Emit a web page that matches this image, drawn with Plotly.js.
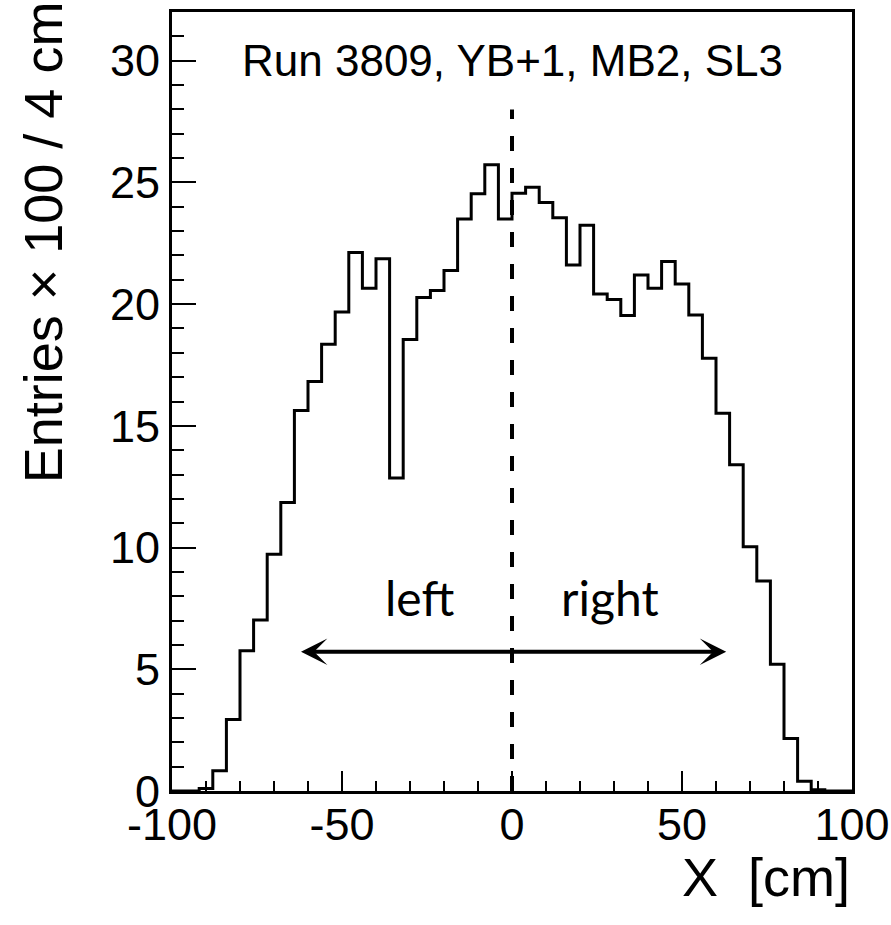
<!DOCTYPE html>
<html>
<head>
<meta charset="utf-8">
<script src="https://cdn.plot.ly/plotly-3.0.1.min.js"></script>
<style>html,body{margin:0;padding:0;background:#fff;}#plot{width:891px;height:925px;}</style>
</head>
<body>
<div id="plot"></div>
<script>
// Histogram: 50 bins of 4 cm from -100 to 100 cm (entries x 100 per bin)
const binLow = -100;
const binWidth = 4;
const entries = [
  0.00, 0.00, 0.10, 0.83, 2.94, 5.76, 7.02, 9.73, 11.85, 15.63,
  16.82, 18.35, 19.68, 22.12, 20.65, 21.86, 12.86, 18.55, 20.27, 20.56,
  21.38, 23.50, 24.53, 25.73, 23.50, 24.55, 24.80, 24.17, 23.55, 21.61,
  23.24, 20.42, 20.19, 19.53, 21.20, 20.65, 21.75, 20.83, 19.55, 17.78,
  15.52, 13.40, 10.03, 8.63, 5.21, 2.16, 0.40, 0.05, 0.00, 0.00
];
// dashed divider at X = 0
const dividerX = [0, 0];
const dividerY = [0, 28];
// left/right arrow
const arrowLeftX = -62.5, arrowRightX = 63, arrowY = 5.72;
const labelTexts = ["left", "right"];
const labelX = [-27.2, 28.7];
const labelY = [7.94, 7.94];
const xTickVals = [-100, -50, 0, 50, 100];
const yTickVals = [0, 5, 10, 15, 20, 25, 30];
const titleText = "Run 3809, YB+1, MB2, SL3";
const xTitle = "X\u00a0\u00a0[cm]";
const yTitle = "Entries \u00d7 100 / 4 cm";

// step line built from bin edges
const stepX = [], stepY = [];
for (let i = 0; i < entries.length; i++) {
  stepX.push(binLow + i * binWidth);
  stepY.push(entries[i]);
}
stepX.push(binLow + entries.length * binWidth);
stepY.push(entries[entries.length - 1]);

const helv = "Liberation Sans, Arial, Helvetica, sans-serif";

const traces = [
  {x: stepX, y: stepY, type: 'scatter', mode: 'lines',
   line: {shape: 'hv', color: '#000', width: 3}, hoverinfo: 'skip', showlegend: false},
  {x: dividerX, y: dividerY, type: 'scatter', mode: 'lines',
   line: {color: '#000', width: 4, dash: '15px,17px'}, hoverinfo: 'skip', showlegend: false}
];

const annotations = [
  {x: arrowRightX, y: arrowY, ax: arrowLeftX, ay: arrowY, xref: 'x', yref: 'y', axref: 'x', ayref: 'y',
   text: '', showarrow: true, arrowside: 'end+start', arrowhead: 3, startarrowhead: 3,
   arrowsize: 1.1, startarrowsize: 1.1, arrowwidth: 4, arrowcolor: '#000', standoff: 0, startstandoff: 0},
  {x: labelX[0], y: labelY[0], xref: 'x', yref: 'y', text: labelTexts[0], showarrow: false,
   font: {family: 'Lato, "Open Sans", sans-serif', size: 48, color: '#000'}, xanchor: 'center', yanchor: 'middle'},
  {x: labelX[1], y: labelY[1], xref: 'x', yref: 'y', text: labelTexts[1], showarrow: false,
   font: {family: 'Lato, "Open Sans", sans-serif', size: 48, color: '#000'}, xanchor: 'center', yanchor: 'middle'},
  {x: 0.5, y: 30.0, xref: 'paper', yref: 'y', text: titleText, showarrow: false,
   font: {family: helv, size: 44, color: '#000'}, xanchor: 'center', yanchor: 'middle'},
  {x: 1.0, y: -0.1104, xref: 'paper', yref: 'paper', text: xTitle, showarrow: false,
   font: {family: helv, size: 54, color: '#000'}, xanchor: 'right', yanchor: 'middle'},
  {x: -0.19, y: 1.016, xref: 'paper', yref: 'paper', text: yTitle, showarrow: false, textangle: -90,
   font: {family: helv, size: 54, color: '#000'}, xanchor: 'center', yanchor: 'top'}
];

const layout = {
  width: 891, height: 925,
  margin: {l: 172, r: 39, t: 12, b: 134, pad: 0},
  paper_bgcolor: '#fff', plot_bgcolor: '#fff',
  showlegend: false,
  xaxis: {
    range: [-100, 100], tickvals: xTickVals, ticktext: xTickVals.map(String),
    ticks: 'inside', ticklen: 20, tickwidth: 2, tickcolor: '#000',
    minor: {dtick: 10, ticks: 'inside', ticklen: 10, tickwidth: 2, tickcolor: '#000'},
    showline: true, linewidth: 3, linecolor: '#000', mirror: true,
    showgrid: false, zeroline: false, fixedrange: true, ticklabelstandoff: -8,
    tickfont: {family: helv, size: 45, color: '#000'}
  },
  yaxis: {
    range: [0, 32], tickvals: yTickVals, ticktext: yTickVals.map(String),
    ticks: 'inside', ticklen: 24, tickwidth: 2, tickcolor: '#000',
    minor: {dtick: 1, ticks: 'inside', ticklen: 12, tickwidth: 2, tickcolor: '#000'},
    showline: true, linewidth: 3, linecolor: '#000', mirror: true,
    showgrid: false, zeroline: false, fixedrange: true,
    tickfont: {family: helv, size: 45, color: '#000'}
  },
  annotations: annotations
};

Plotly.newPlot('plot', traces, layout, {displayModeBar: false, staticPlot: true});
</script>
</body>
</html>
